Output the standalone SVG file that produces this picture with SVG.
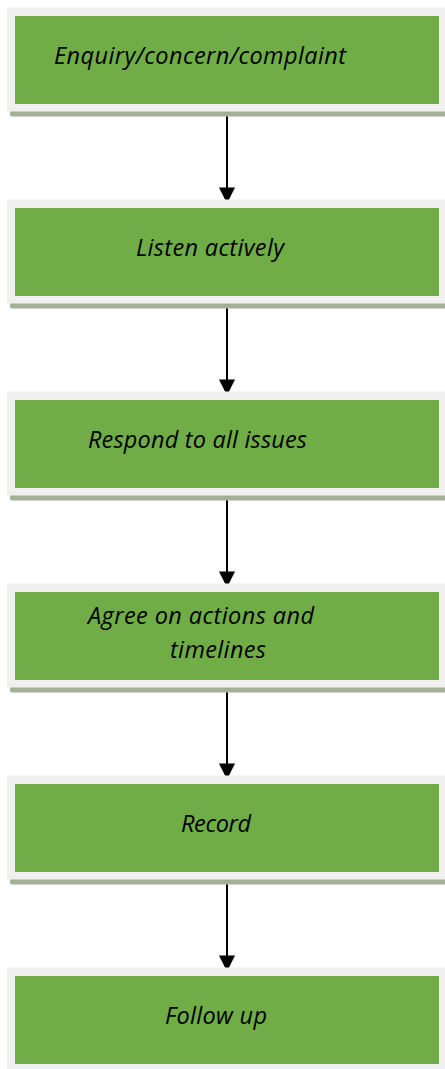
<svg xmlns="http://www.w3.org/2000/svg" width="445" height="1069" viewBox="0 0 445 1069">
  <style>
    .shadow { fill: #a2b098; }
    .frame { fill: #f0f0f0; }
    .box { fill: #70ad47; }
    .label { font-family: "Open Sans", "Liberation Sans", sans-serif; font-style: italic; font-size: 23.5px; fill: #000000; }
    .link { stroke: #000000; stroke-width: 2; fill: none; }
    .head { fill: #000000; }
  </style>
  <defs>
    <!-- one step: shadow strip, light frame, green body -->
    <g id="step">
      <rect class="shadow" x="10" y="5" width="440" height="104" rx="2"/>
      <rect class="frame" x="7" y="0" width="440" height="104"/>
      <rect class="box" x="15" y="8.5" width="424" height="88"/>
    </g>
  </defs>

  <g id="connectors">
    <line class="link" x1="227" y1="106.5" x2="227" y2="188"/>
    <polygon class="head" points="219,187.5 235,187.5 227,203.5"/>
    <line class="link" x1="227" y1="298.5" x2="227" y2="380"/>
    <polygon class="head" points="219,379.5 235,379.5 227,395.5"/>
    <line class="link" x1="227" y1="490.5" x2="227" y2="572"/>
    <polygon class="head" points="219,571.5 235,571.5 227,587.5"/>
    <line class="link" x1="227" y1="682.5" x2="227" y2="764"/>
    <polygon class="head" points="219,763.5 235,763.5 227,779.5"/>
    <line class="link" x1="227" y1="874.5" x2="227" y2="956"/>
    <polygon class="head" points="219,955.5 235,955.5 227,971.5"/>
  </g>

  <g id="node-enquiry">
    <use href="#step" x="0" y="7.5"/>
    <text class="label" x="54" y="64" textLength="292">Enquiry/concern/complaint</text>
  </g>
  <g id="node-listen">
    <use href="#step" x="0" y="199.5"/>
    <text class="label" x="136" y="256" textLength="148">Listen actively</text>
  </g>
  <g id="node-respond">
    <use href="#step" x="0" y="391.5"/>
    <text class="label" x="88" y="447.5" textLength="219">Respond to all issues</text>
  </g>
  <g id="node-agree">
    <use href="#step" x="0" y="583.5"/>
    <text class="label" x="88" y="624" textLength="226">Agree on actions and</text>
    <text class="label" x="170" y="657.5" textLength="96">timelines</text>
  </g>
  <g id="node-record">
    <use href="#step" x="0" y="775.5"/>
    <text class="label" x="181" y="831.5" textLength="70">Record</text>
  </g>
  <g id="node-follow">
    <use href="#step" x="0" y="967.5"/>
    <text class="label" x="165" y="1024" textLength="102">Follow up</text>
  </g>
</svg>
